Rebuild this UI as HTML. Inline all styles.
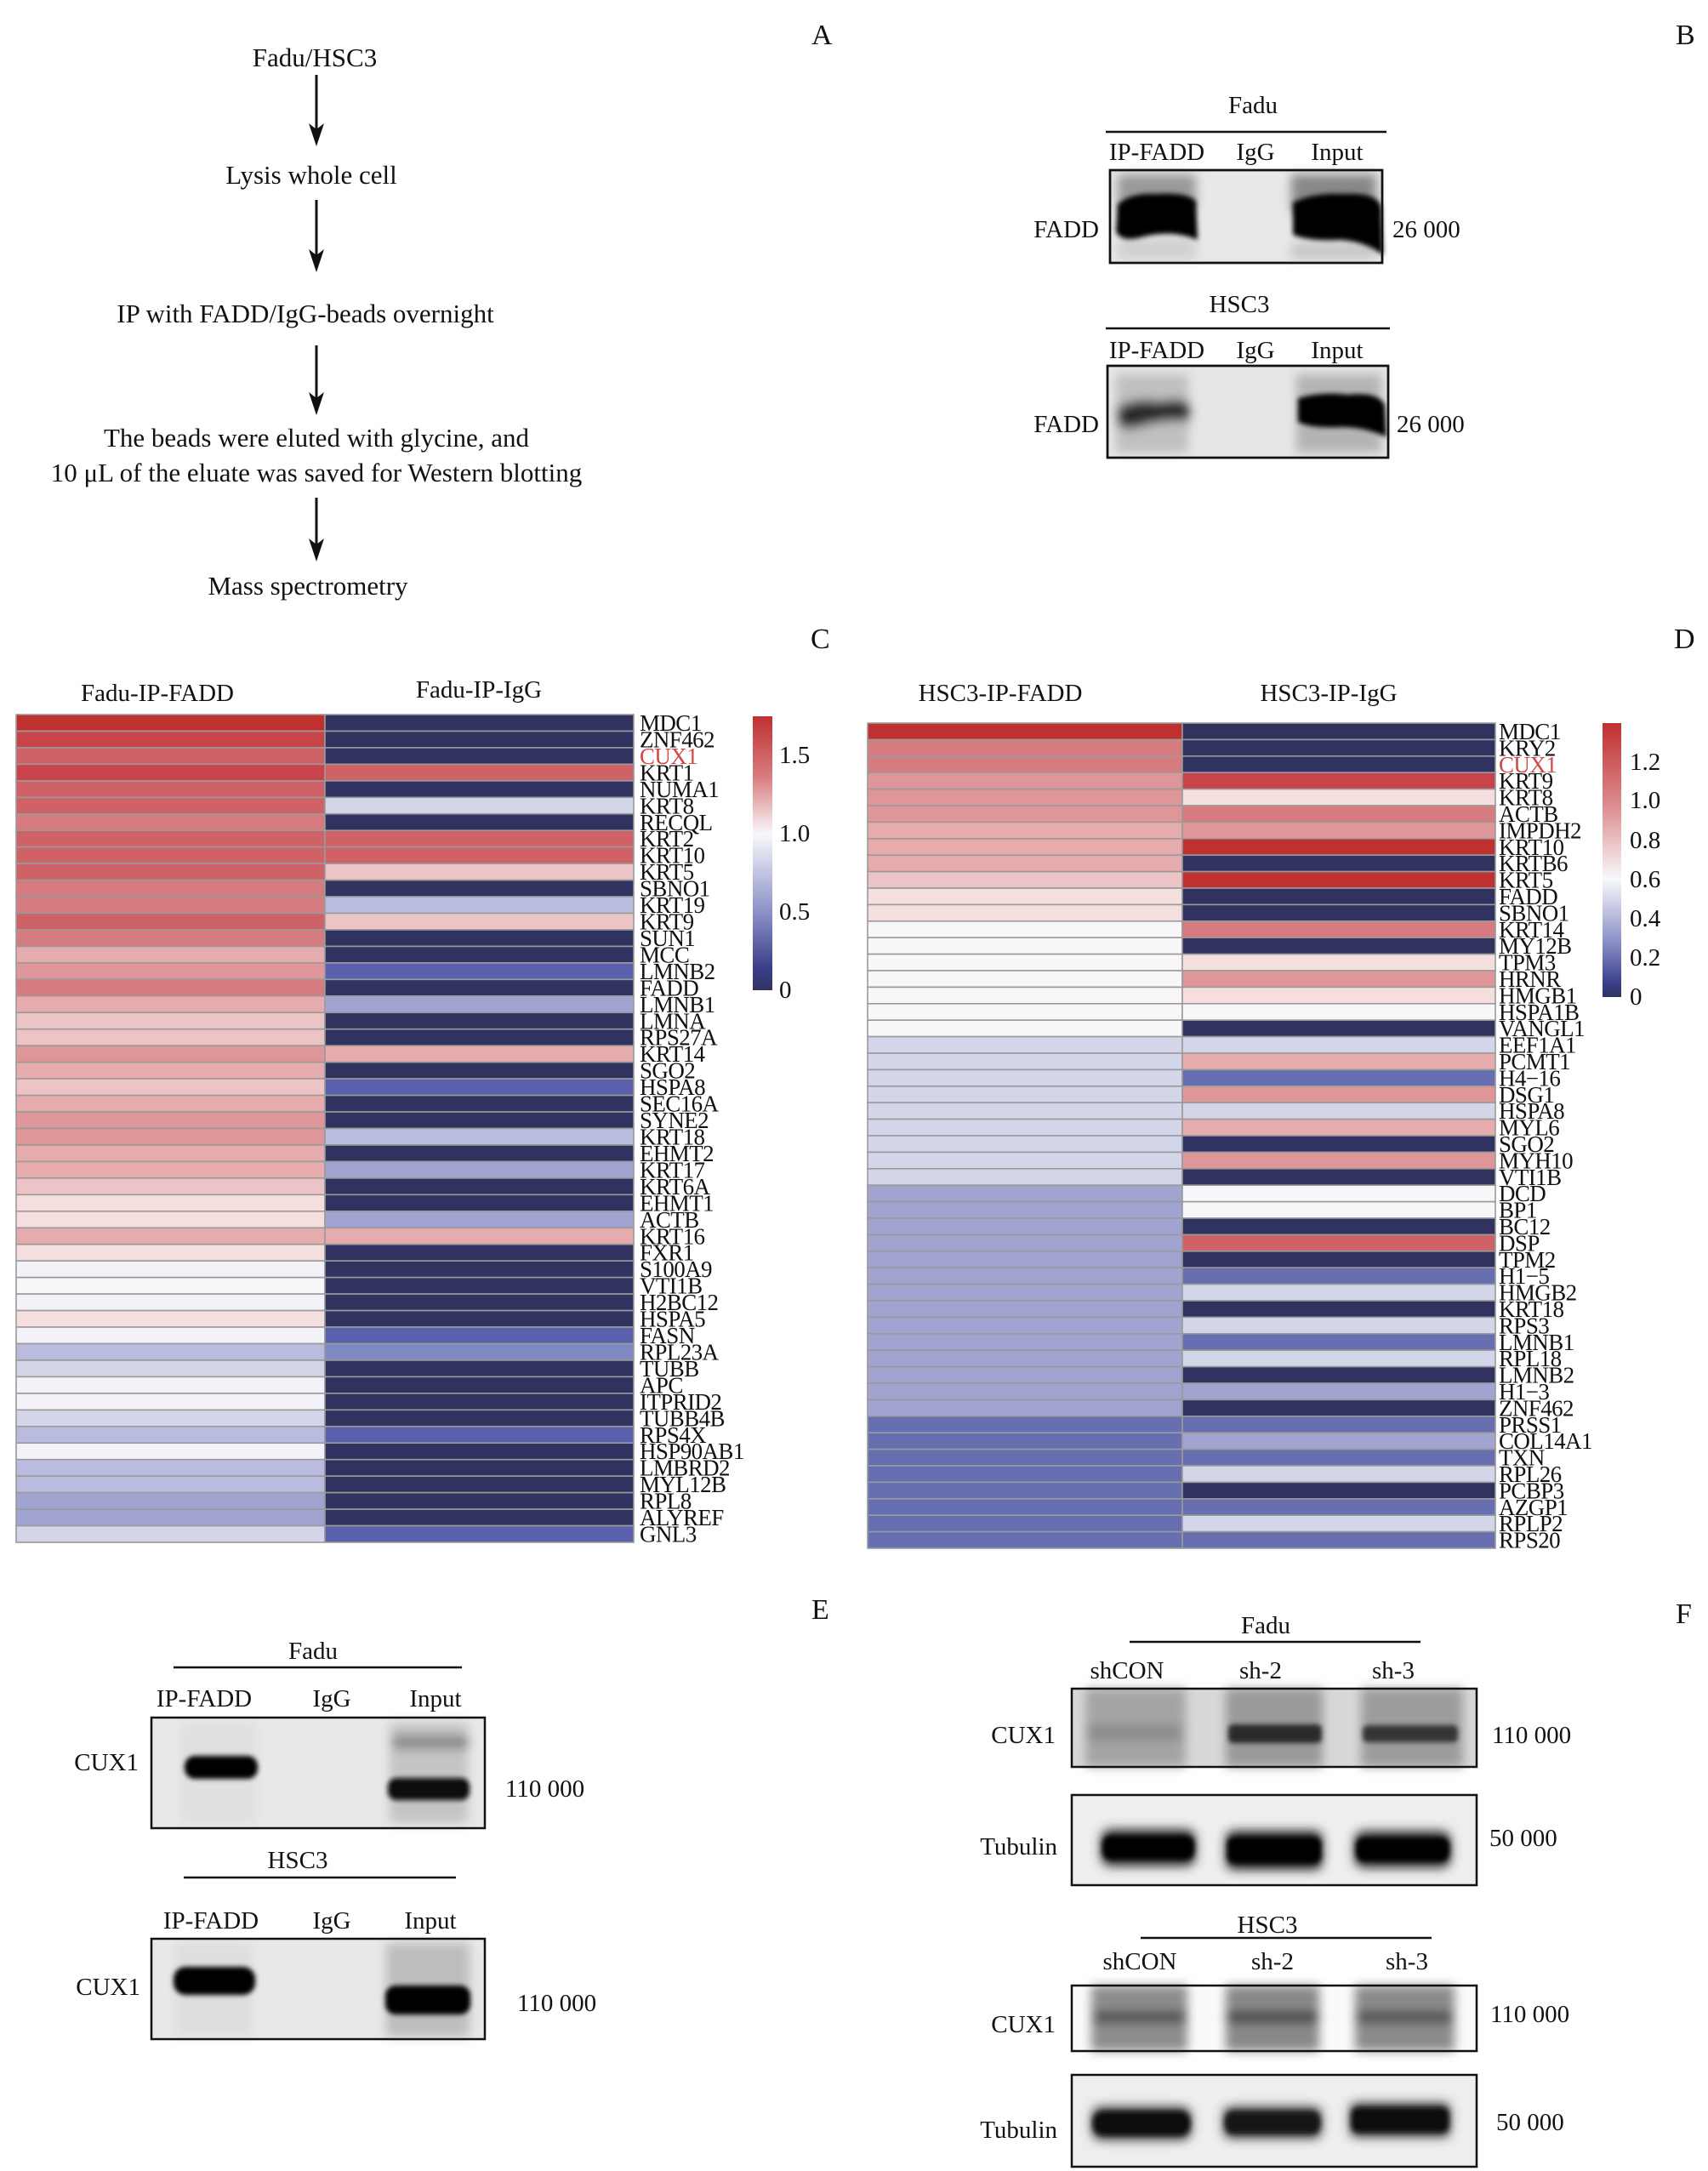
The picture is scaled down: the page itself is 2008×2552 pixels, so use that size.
<!DOCTYPE html>
<html><head><meta charset="utf-8"><style>
html,body{margin:0;padding:0;background:#fff}
svg{display:block}
text{font-family:"Liberation Serif",serif;fill:#111}
</style></head><body>
<svg id="s" width="2008" height="2552" viewBox="0 0 2008 2552" xmlns="http://www.w3.org/2000/svg">
<defs>
<filter id="b6" x="-50%" y="-50%" width="200%" height="200%"><feGaussianBlur stdDeviation="6"/></filter>
<filter id="b3" x="-50%" y="-50%" width="200%" height="200%"><feGaussianBlur stdDeviation="3"/></filter>
<linearGradient id="gc" x1="0" y1="0" x2="0" y2="1">
<stop offset="0" stop-color="#c0302f"/><stop offset="0.22" stop-color="#d87c80"/><stop offset="0.43" stop-color="#f8f8fb"/><stop offset="0.72" stop-color="#8a8fc6"/><stop offset="0.92" stop-color="#3a3f8a"/><stop offset="1" stop-color="#30335f"/></linearGradient>
<linearGradient id="gd" x1="0" y1="0" x2="0" y2="1">
<stop offset="0" stop-color="#c0302f"/><stop offset="0.3" stop-color="#dc8c90"/><stop offset="0.57" stop-color="#f8f8fb"/><stop offset="0.8" stop-color="#8a8fc6"/><stop offset="0.95" stop-color="#3a3f8a"/><stop offset="1" stop-color="#30335f"/></linearGradient>
</defs>

<g font-size="34">
<text x="954" y="52">A</text>
<text x="1970" y="52">B</text>
<text x="953" y="762">C</text>
<text x="1968" y="762">D</text>
<text x="954" y="1903">E</text>
<text x="1970" y="1908">F</text>
</g>

<g font-size="31" text-anchor="middle">
<text x="370" y="78">Fadu/HSC3</text>
<text x="366" y="216">Lysis whole cell</text>
<text x="359" y="379">IP with FADD/IgG-beads overnight</text>
<text x="372" y="525">The beads were eluted with glycine,  and</text>
<text x="372" y="566">10 μL of the eluate was saved for Western blotting</text>
<text x="362" y="699">Mass spectrometry</text>
</g>
<g stroke="#111" stroke-width="3" fill="#111">
<line x1="372" y1="88" x2="372" y2="160"/><polygon points="363,145 372,172 381,145 372,152" stroke="none"/>
<line x1="372" y1="235" x2="372" y2="308"/><polygon points="363,293 372,320 381,293 372,300" stroke="none"/>
<line x1="372" y1="406" x2="372" y2="476"/><polygon points="363,461 372,488 381,461 372,468" stroke="none"/>
<line x1="372" y1="585" x2="372" y2="648"/><polygon points="363,633 372,660 381,633 372,640" stroke="none"/>
</g>

<!-- Panel B -->
<g font-size="29">
<text x="1473" y="133" text-anchor="middle">Fadu</text>
<line x1="1300" y1="155" x2="1630" y2="155" stroke="#111" stroke-width="2.5"/>
<text x="1360" y="188" text-anchor="middle">IP-FADD</text><text x="1476" y="188" text-anchor="middle">IgG</text><text x="1572" y="188" text-anchor="middle">Input</text>
<rect x="1305" y="200" width="320" height="109" fill="#e8e8e8" stroke="#111" stroke-width="2.5"/>
<g filter="url(#b6)"><rect x="1314" y="205" width="92" height="40" fill="#999"/><rect x="1518" y="205" width="100" height="45" fill="#888"/>
<rect x="1314" y="280" width="92" height="25" fill="#d0d0d0"/><rect x="1518" y="285" width="100" height="20" fill="#c8c8c8"/></g>
<g filter="url(#b3)">
<path d="M1314,240 Q1330,226 1360,228 Q1395,226 1406,236 L1408,282 Q1380,270 1345,278 Q1318,286 1312,272Z" fill="#000"/>
<path d="M1520,238 Q1545,226 1580,228 Q1620,226 1624,244 L1626,300 Q1606,284 1576,282 Q1540,284 1520,276Z" fill="#000"/></g>
<rect x="1305" y="200" width="320" height="109" fill="none" stroke="#111" stroke-width="2.5"/>
<text x="1292" y="279" text-anchor="end">FADD</text><text x="1637" y="279">26 000</text>
<text x="1457" y="367" text-anchor="middle">HSC3</text>
<line x1="1300" y1="386" x2="1634" y2="386" stroke="#111" stroke-width="2.5"/>
<text x="1360" y="421" text-anchor="middle">IP-FADD</text><text x="1476" y="421" text-anchor="middle">IgG</text><text x="1572" y="421" text-anchor="middle">Input</text>
<rect x="1302" y="430" width="330" height="108" fill="#e6e6e6" stroke="#111" stroke-width="2.5"/>
<g filter="url(#b6)"><rect x="1312" y="440" width="85" height="92" fill="#c0c0c0"/><rect x="1524" y="440" width="100" height="92" fill="#b4b4b4"/>
<path d="M1314,478 Q1340,466 1362,472 Q1388,466 1398,474 L1398,496 Q1370,492 1340,502 Q1316,508 1314,496Z" fill="#2a2a2a"/></g>
<g filter="url(#b3)"><path d="M1526,468 Q1555,460 1585,464 Q1620,460 1628,476 L1630,514 Q1606,502 1578,502 Q1542,504 1526,496Z" fill="#000"/></g>
<rect x="1302" y="430" width="330" height="108" fill="none" stroke="#111" stroke-width="2.5"/>
<text x="1292" y="508" text-anchor="end">FADD</text><text x="1642" y="508">26 000</text>
</g>

<g font-size="29" text-anchor="middle"><text x="185" y="824">Fadu-IP-FADD</text><text x="563" y="820">Fadu-IP-IgG</text>
<text x="1176" y="824">HSC3-IP-FADD</text><text x="1562" y="824">HSC3-IP-IgG</text></g>
<g id="hc"></g>
<g id="hd"></g>
<rect x="885" y="842" width="23" height="322" fill="url(#gc)"/>
<g font-size="29"><text x="916" y="897">1.5</text><text x="916" y="989">1.0</text><text x="916" y="1081">0.5</text><text x="916" y="1173">0</text></g>
<rect x="1884" y="850" width="22" height="322" fill="url(#gd)"/>
<g font-size="29"><text x="1916" y="905">1.2</text><text x="1916" y="950">1.0</text><text x="1916" y="997">0.8</text><text x="1916" y="1043">0.6</text><text x="1916" y="1089">0.4</text><text x="1916" y="1135">0.2</text><text x="1916" y="1181">0</text></g>

<text font-size="27" x="752" y="859" style="letter-spacing:-0.6px"><tspan x="752" dy="0">MDC1</tspan><tspan x="752" dy="19.46">ZNF462</tspan><tspan x="752" dy="19.46" style="fill:#d04848">CUX1</tspan><tspan x="752" dy="19.46">KRT1</tspan><tspan x="752" dy="19.46">NUMA1</tspan><tspan x="752" dy="19.46">KRT8</tspan><tspan x="752" dy="19.46">RECQL</tspan><tspan x="752" dy="19.46">KRT2</tspan><tspan x="752" dy="19.46">KRT10</tspan><tspan x="752" dy="19.46">KRT5</tspan><tspan x="752" dy="19.46">SBNO1</tspan><tspan x="752" dy="19.46">KRT19</tspan><tspan x="752" dy="19.46">KRT9</tspan><tspan x="752" dy="19.46">SUN1</tspan><tspan x="752" dy="19.46">MCC</tspan><tspan x="752" dy="19.46">LMNB2</tspan><tspan x="752" dy="19.46">FADD</tspan><tspan x="752" dy="19.46">LMNB1</tspan><tspan x="752" dy="19.46">LMNA</tspan><tspan x="752" dy="19.46">RPS27A</tspan><tspan x="752" dy="19.46">KRT14</tspan><tspan x="752" dy="19.46">SGO2</tspan><tspan x="752" dy="19.46">HSPA8</tspan><tspan x="752" dy="19.46">SEC16A</tspan><tspan x="752" dy="19.46">SYNE2</tspan><tspan x="752" dy="19.46">KRT18</tspan><tspan x="752" dy="19.46">EHMT2</tspan><tspan x="752" dy="19.46">KRT17</tspan><tspan x="752" dy="19.46">KRT6A</tspan><tspan x="752" dy="19.46">EHMT1</tspan><tspan x="752" dy="19.46">ACTB</tspan><tspan x="752" dy="19.46">KRT16</tspan><tspan x="752" dy="19.46">FXR1</tspan><tspan x="752" dy="19.46">S100A9</tspan><tspan x="752" dy="19.46">VTI1B</tspan><tspan x="752" dy="19.46">H2BC12</tspan><tspan x="752" dy="19.46">HSPA5</tspan><tspan x="752" dy="19.46">FASN</tspan><tspan x="752" dy="19.46">RPL23A</tspan><tspan x="752" dy="19.46">TUBB</tspan><tspan x="752" dy="19.46">APC</tspan><tspan x="752" dy="19.46">ITPRID2</tspan><tspan x="752" dy="19.46">TUBB4B</tspan><tspan x="752" dy="19.46">RPS4X</tspan><tspan x="752" dy="19.46">HSP90AB1</tspan><tspan x="752" dy="19.46">LMBRD2</tspan><tspan x="752" dy="19.46">MYL12B</tspan><tspan x="752" dy="19.46">RPL8</tspan><tspan x="752" dy="19.46">ALYREF</tspan><tspan x="752" dy="19.46">GNL3</tspan></text>

<text font-size="27" x="1762" y="869" style="letter-spacing:-0.6px"><tspan x="1762" dy="0">MDC1</tspan><tspan x="1762" dy="19.4">KRY2</tspan><tspan x="1762" dy="19.4" style="fill:#d04848">CUX1</tspan><tspan x="1762" dy="19.4">KRT9</tspan><tspan x="1762" dy="19.4">KRT8</tspan><tspan x="1762" dy="19.4">ACTB</tspan><tspan x="1762" dy="19.4">IMPDH2</tspan><tspan x="1762" dy="19.4">KRT10</tspan><tspan x="1762" dy="19.4">KRTB6</tspan><tspan x="1762" dy="19.4">KRT5</tspan><tspan x="1762" dy="19.4">FADD</tspan><tspan x="1762" dy="19.4">SBNO1</tspan><tspan x="1762" dy="19.4">KRT14</tspan><tspan x="1762" dy="19.4">MY12B</tspan><tspan x="1762" dy="19.4">TPM3</tspan><tspan x="1762" dy="19.4">HRNR</tspan><tspan x="1762" dy="19.4">HMGB1</tspan><tspan x="1762" dy="19.4">HSPA1B</tspan><tspan x="1762" dy="19.4">VANGL1</tspan><tspan x="1762" dy="19.4">EEF1A1</tspan><tspan x="1762" dy="19.4">PCMT1</tspan><tspan x="1762" dy="19.4">H4−16</tspan><tspan x="1762" dy="19.4">DSG1</tspan><tspan x="1762" dy="19.4">HSPA8</tspan><tspan x="1762" dy="19.4">MYL6</tspan><tspan x="1762" dy="19.4">SGO2</tspan><tspan x="1762" dy="19.4">MYH10</tspan><tspan x="1762" dy="19.4">VTI1B</tspan><tspan x="1762" dy="19.4">DCD</tspan><tspan x="1762" dy="19.4">BP1</tspan><tspan x="1762" dy="19.4">BC12</tspan><tspan x="1762" dy="19.4">DSP</tspan><tspan x="1762" dy="19.4">TPM2</tspan><tspan x="1762" dy="19.4">H1−5</tspan><tspan x="1762" dy="19.4">HMGB2</tspan><tspan x="1762" dy="19.4">KRT18</tspan><tspan x="1762" dy="19.4">RPS3</tspan><tspan x="1762" dy="19.4">LMNB1</tspan><tspan x="1762" dy="19.4">RPL18</tspan><tspan x="1762" dy="19.4">LMNB2</tspan><tspan x="1762" dy="19.4">H1−3</tspan><tspan x="1762" dy="19.4">ZNF462</tspan><tspan x="1762" dy="19.4">PRSS1</tspan><tspan x="1762" dy="19.4">COL14A1</tspan><tspan x="1762" dy="19.4">TXN</tspan><tspan x="1762" dy="19.4">RPL26</tspan><tspan x="1762" dy="19.4">PCBP3</tspan><tspan x="1762" dy="19.4">AZGP1</tspan><tspan x="1762" dy="19.4">RPLP2</tspan><tspan x="1762" dy="19.4">RPS20</tspan></text>

<!-- Panel E -->
<g font-size="29">
<text x="368" y="1950" text-anchor="middle">Fadu</text>
<line x1="204" y1="1960" x2="543" y2="1960" stroke="#111" stroke-width="2.5"/>
<text x="240" y="2006" text-anchor="middle">IP-FADD</text><text x="390" y="2006" text-anchor="middle">IgG</text><text x="512" y="2006" text-anchor="middle">Input</text>
<rect x="178" y="2019" width="392" height="130" fill="#e8e8e8"/>
<g filter="url(#b6)"><rect x="458" y="2025" width="92" height="118" fill="#c4c4c4"/><rect x="212" y="2025" width="90" height="118" fill="#e0e0e0"/>
<rect x="461" y="2040" width="90" height="16" rx="6" fill="#888"/></g>
<g filter="url(#b3)"><rect x="217" y="2064" width="86" height="27" rx="12" fill="#000"/><rect x="456" y="2090" width="96" height="26" rx="10" fill="#111"/></g>
<rect x="178" y="2019" width="392" height="130" fill="none" stroke="#111" stroke-width="2.5"/>
<text x="163" y="2081" text-anchor="end">CUX1</text><text x="594" y="2112">110 000</text>
<text x="350" y="2196" text-anchor="middle">HSC3</text>
<line x1="216" y1="2207" x2="536" y2="2207" stroke="#111" stroke-width="2.5"/>
<text x="248" y="2267" text-anchor="middle">IP-FADD</text><text x="390" y="2267" text-anchor="middle">IgG</text><text x="506" y="2267" text-anchor="middle">Input</text>
<rect x="178" y="2279" width="392" height="118" fill="#e8e8e8"/>
<g filter="url(#b6)"><rect x="454" y="2284" width="98" height="110" fill="#bdbdbd"/><rect x="206" y="2284" width="90" height="110" fill="#dedede"/></g>
<g filter="url(#b3)"><rect x="204" y="2312" width="96" height="33" rx="14" fill="#000"/><rect x="453" y="2334" width="100" height="34" rx="12" fill="#000"/></g>
<rect x="178" y="2279" width="392" height="118" fill="none" stroke="#111" stroke-width="2.5"/>
<text x="165" y="2345" text-anchor="end">CUX1</text><text x="608" y="2364">110 000</text>
</g>

<!-- Panel F -->
<g font-size="29">
<text x="1488" y="1920" text-anchor="middle">Fadu</text>
<line x1="1328" y1="1930" x2="1670" y2="1930" stroke="#111" stroke-width="2.5"/>
<text x="1325" y="1973" text-anchor="middle">shCON</text><text x="1482" y="1973" text-anchor="middle">sh-2</text><text x="1638" y="1973" text-anchor="middle">sh-3</text>
<rect x="1260" y="1985" width="476" height="92" fill="#d8d8d8"/>
<g filter="url(#b6)"><rect x="1276" y="1985" width="118" height="92" fill="#a4a4a4"/><rect x="1441" y="1985" width="114" height="92" fill="#9a9a9a"/><rect x="1600" y="1985" width="120" height="92" fill="#9c9c9c"/>
<rect x="1279" y="2028" width="110" height="18" fill="#8a8a8a"/></g>
<g filter="url(#b3)"><rect x="1444" y="2027" width="110" height="22" rx="6" fill="#2a2a2a"/><rect x="1602" y="2028" width="112" height="20" rx="6" fill="#353535"/></g>
<rect x="1260" y="1985" width="476" height="92" fill="none" stroke="#111" stroke-width="2.5"/>
<text x="1241" y="2049" text-anchor="end">CUX1</text><text x="1754" y="2049">110 000</text>
<rect x="1260" y="2110" width="476" height="106" fill="#eeeeee"/>
<g filter="url(#b6)"><rect x="1294" y="2150" width="112" height="44" rx="12" fill="#333"/><rect x="1441" y="2152" width="114" height="46" rx="10" fill="#222"/><rect x="1592" y="2152" width="114" height="44" rx="12" fill="#333"/></g>
<g filter="url(#b3)"><rect x="1296" y="2158" width="108" height="28" rx="10" fill="#000"/><rect x="1443" y="2160" width="110" height="30" rx="8" fill="#000"/><rect x="1594" y="2160" width="110" height="28" rx="10" fill="#000"/></g>
<rect x="1260" y="2110" width="476" height="106" fill="none" stroke="#111" stroke-width="2.5"/>
<text x="1243" y="2180" text-anchor="end">Tubulin</text><text x="1751" y="2170">50 000</text>
<text x="1490" y="2272" text-anchor="middle">HSC3</text>
<line x1="1341" y1="2278" x2="1683" y2="2278" stroke="#111" stroke-width="2.5"/>
<text x="1340" y="2315" text-anchor="middle">shCON</text><text x="1496" y="2315" text-anchor="middle">sh-2</text><text x="1654" y="2315" text-anchor="middle">sh-3</text>
<rect x="1260" y="2334" width="476" height="77" fill="#fafafa"/>
<g filter="url(#b6)"><rect x="1283" y="2334" width="113" height="77" fill="#8c8c8c"/><rect x="1441" y="2334" width="110" height="77" fill="#888"/><rect x="1593" y="2334" width="117" height="77" fill="#8a8a8a"/>
<rect x="1286" y="2364" width="108" height="14" fill="#505050"/><rect x="1443" y="2364" width="106" height="14" fill="#454545"/><rect x="1595" y="2364" width="112" height="14" fill="#505050"/></g>
<rect x="1260" y="2334" width="476" height="77" fill="none" stroke="#111" stroke-width="2.5"/>
<text x="1241" y="2389" text-anchor="end">CUX1</text><text x="1752" y="2377">110 000</text>
<rect x="1260" y="2439" width="476" height="108" fill="#eeeeee"/>
<g filter="url(#b6)"><rect x="1283" y="2476" width="118" height="40" rx="12" fill="#444"/><rect x="1438" y="2476" width="116" height="38" rx="10" fill="#444"/><rect x="1587" y="2472" width="118" height="40" rx="8" fill="#333"/></g>
<g filter="url(#b3)"><rect x="1285" y="2482" width="114" height="28" rx="12" fill="#111"/><rect x="1440" y="2482" width="112" height="26" rx="10" fill="#151515"/><rect x="1589" y="2478" width="114" height="28" rx="8" fill="#0a0a0a"/></g>
<rect x="1260" y="2439" width="476" height="108" fill="none" stroke="#111" stroke-width="2.5"/>
<text x="1243" y="2513" text-anchor="end">Tubulin</text><text x="1759" y="2504">50 000</text>
</g>
</svg>
<script>
var P={R1:"#c0302f",R2:"#c8444a",R3:"#cf6266",R4:"#d67b7f",R5:"#df9699",R6:"#e5abad",R7:"#ecc4c6",R8:"#f4dede",W:"#f8f6f8",W2:"#f2f2f8",B1:"#d3d5e8",B2:"#b9bcdf",B3:"#a1a4d1",B4:"#8088c2",B5:"#5a60ab",B6:"#676fb0",N:"#30335f"};
function hm(g,x0,xm,x1,top,h,c1,c2){var s="";for(var i=0;i<50;i++){var y=top+i*h;
s+='<rect x="'+x0+'" y="'+y+'" width="'+(xm-x0)+'" height="'+h+'" fill="'+P[c1[i]]+'" stroke="#9a9a9a" stroke-width="1.6"/>';
s+='<rect x="'+xm+'" y="'+y+'" width="'+(x1-xm)+'" height="'+h+'" fill="'+P[c2[i]]+'" stroke="#9a9a9a" stroke-width="1.6"/>';}
document.getElementById(g).innerHTML=s;}
var c1="R1 R2 R3 R2 R3 R3 R4 R3 R3 R3 R4 R4 R3 R4 R6 R5 R4 R6 R7 R7 R5 R6 R7 R6 R5 R5 R6 R6 R7 R8 R8 R6 R8 W2 W W2 R8 W2 B2 B1 W2 W2 B1 B2 W2 B2 B2 B3 B3 B1".split(" ");
var c2="N N N R3 N B1 N R3 R3 R7 N B2 R7 N N B5 N B3 N N R6 N B5 N N B2 N B3 N N B3 R6 N N N N N B5 B4 N N N N B5 N N N N N B5".split(" ");
var d1="R1 R4 R4 R5 R5 R5 R6 R6 R6 R7 R8 R8 W W W W W W W B1 B1 B1 B1 B1 B1 B1 B1 B1 B3 B3 B3 B3 B3 B3 B3 B3 B3 B3 B3 B3 B3 B3 B6 B6 B6 B6 B6 B6 B6 B6".split(" ");
var d2="N N N R2 R8 R4 R5 R1 N R1 N N R4 N R8 R5 R8 W N B1 R6 B6 R5 B1 R6 N R5 N W W N R3 N B6 B1 N B1 B6 B1 N B3 N B6 B3 B6 B1 N B6 B1 B6".split(" ");
hm("hc",19,382,745,840,19.46,c1,c2);
hm("hd",1020,1390,1758,850,19.4,d1,d2);
</script>
</body></html>
